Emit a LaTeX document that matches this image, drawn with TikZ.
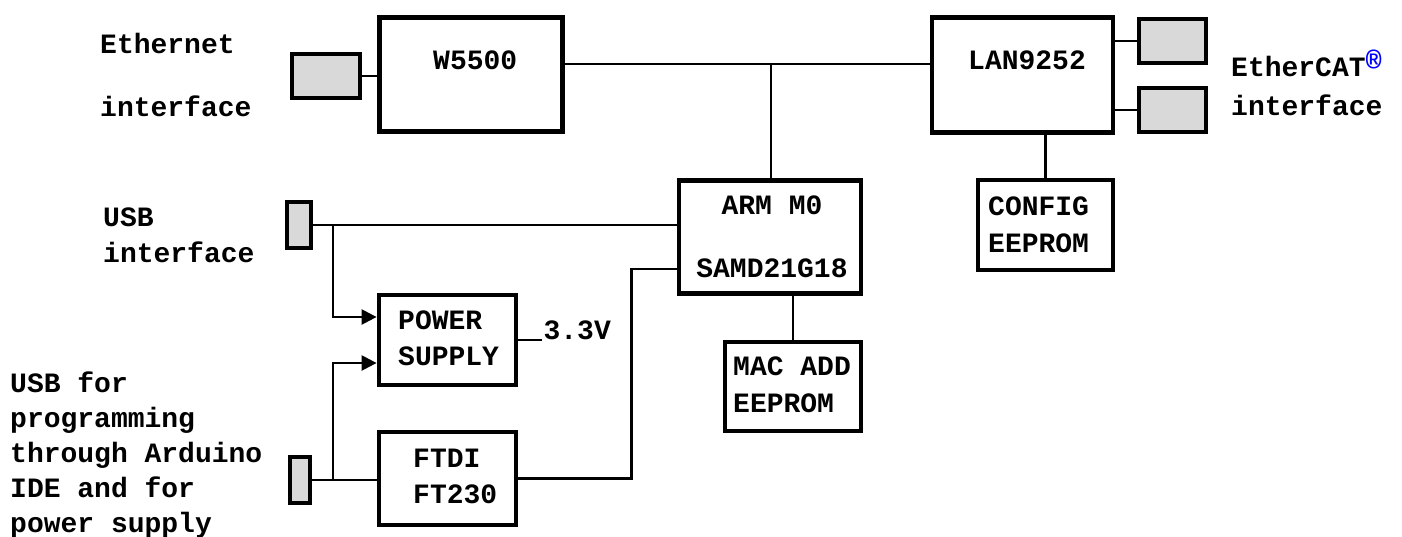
\documentclass[tikz,border=0pt]{standalone}
\usepackage{fontspec}
\setmainfont{Liberation Mono}
\usetikzlibrary{arrows.meta}
\tikzset{
  box/.style={draw, line width=4.8pt, inner sep=0pt},
  port/.style={draw, line width=4.8pt, fill=gray!30, inner sep=0pt},
  wire/.style={line width=2.4pt},
  feed/.style={line width=2.4pt, -{Triangle[length=15pt,width=15pt]}},
  lbl/.style={inner sep=0pt, anchor=north west, align=left,
    font=\fontsize{28}{36}\selectfont\bfseries}
}
\begin{document}
\begin{tikzpicture}[x=1pt, y=-1pt]
\useasboundingbox (0,0) rectangle (1402,536);
% blocks
\node[box, minimum width=183pt, minimum height=114pt] (w5500) at (471,74.5) {};
\node[box, minimum width=181pt, minimum height=115pt] (lan) at (1022.5,75) {};
\node[box, minimum width=182pt, minimum height=113pt] (arm) at (770,237) {};
\node[box, minimum width=135pt, minimum height=90pt] (config) at (1045.5,225) {};
\node[box, minimum width=136pt, minimum height=89pt] (mac) at (793,386.5) {};
\node[box, minimum width=137pt, minimum height=90pt] (psu) at (447.5,340) {};
\node[box, minimum width=137pt, minimum height=93pt] (ftdi) at (447.5,478.5) {};
% connectors
\node[port, minimum width=68pt, minimum height=44pt] (ethport) at (326,76) {};
\foreach \n/\y in {ecatA/41, ecatB/110}
{
	\node[port, minimum width=67pt, minimum height=44pt] (\n) at (1172.5,\y) {};
	\draw[wire] (\n.west -| lan.east) -- (\n.west);
}
\node[port, minimum width=24pt, minimum height=46pt] (usbA) at (299,225) {};
\node[port, minimum width=20pt, minimum height=46pt] (usbB) at (300,480) {};
% texts in blocks
\node[lbl] (tw5500) at (433,51) {W5500};
\node[lbl] (tlan) at (968,51) {LAN9252};
\node[lbl, align=center, anchor=north] (tarm) at (772,196) {ARM M0\\[27pt]SAMD21G18};
\node[lbl] (tconfig) at (988,197) {CONFIG\\[1pt]EEPROM};
\node[lbl] (tmac) at (733,357) {MAC ADD\\[1pt]EEPROM};
\node[lbl] (tpsu) at (398,311) {POWER\\SUPPLY};
\node[lbl] (tftdi) at (413,449) {FTDI\\FT230};
% side labels
\node[lbl] (teth) at (100,33) {Ethernet\\[27pt]interface};
\node[lbl] (tecat) at (1231,56) {EtherCAT\smash{\raisebox{7pt}{\fontsize{27}{27}\selectfont\color{blue}\bfseries\itshape ®}}\\[3pt]interface};
\node[lbl] (tusb) at (103,208) {USB\\interface};
\node[lbl] (tprog) at (10,372) {USB for\\[-1pt]programming\\[-1pt]through Arduino\\[-1pt]IDE and for\\[-1pt]power supply};
% wiring
\draw[wire] (ethport.east) -- (ethport.east -| w5500.west);
\coordinate (bus) at (771,64);
\draw[wire] (bus -| w5500.east) -- (bus -| lan.west);
\draw[wire] (bus) -- (bus |- arm.north);
\draw[wire] (lan.south -| config.north) -- (config.north);
\draw[wire] (mac.north |- arm.south) -- (mac.north);
\coordinate (splitA) at (333,225);
\draw[wire] (usbA.east) -- (usbA.east -| arm.west);
\draw[feed] (splitA) |- ([yshift=23pt]psu.west);
\draw[wire] (usbB.east) -- (usbB.east -| ftdi.west);
\draw[feed] (usbB.east -| splitA) |- ([yshift=-23pt]psu.west);
\draw[wire] (ftdi.east) -| ([xshift=-45pt, yshift=-32pt]arm.west) -- ([yshift=-32pt]arm.west);
\draw[wire] (psu.east) -- ++(24,0) node[lbl, anchor=base west, yshift=1pt] (v33) {3.3V};
\end{tikzpicture}
\end{document}
